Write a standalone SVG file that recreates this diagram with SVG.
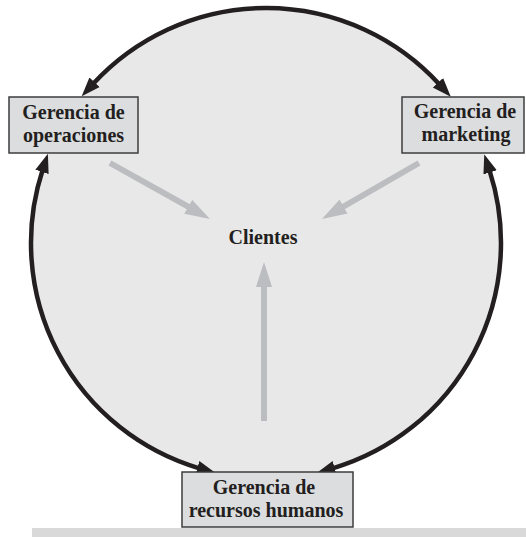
<svg xmlns="http://www.w3.org/2000/svg" width="526" height="537" viewBox="0 0 526 537">
<style>
.box{fill:#dcdddf;stroke:#3d3d3d;stroke-width:1.5}
.lbl{font-family:"Liberation Serif","Times New Roman",serif;font-weight:bold;font-size:20px;fill:#231f20;text-anchor:middle}
.arc{fill:none;stroke:#231f20;stroke-width:4.5;marker-start:url(#bk);marker-end:url(#bk)}
.garr{fill:none;stroke:#bcbdc0;stroke-width:6;marker-end:url(#gy)}
</style>
<defs>
<marker id="bk" markerUnits="userSpaceOnUse" markerWidth="20" markerHeight="16" viewBox="0 -8 20 16" refX="2" refY="0" orient="auto-start-reverse">
<path d="M0,-7 L19,0 L0,7 z" fill="#231f20"/>
</marker>
<marker id="gy" markerUnits="userSpaceOnUse" markerWidth="26" markerHeight="18" viewBox="0 -9 26 18" refX="3" refY="0" orient="auto">
<path d="M0,-8 L25,0 L0,8 z" fill="#bcbdc0"/>
</marker>
</defs>
<rect x="32" y="528" width="494" height="9" fill="#d9d9d9"/>
<circle id="fondo" cx="266" cy="243" r="235" fill="#e8e8e8"/>
<g id="connectors">
<path class="arc" d="M93.2,83.7 A235,235 0 0 1 439.3,84.2"/>
<path class="arc" d="M489.5,170.4 A235,235 0 0 1 332.7,468.3"/>
<path class="arc" d="M199.3,468.3 A235,235 0 0 1 42.6,170.0"/>
<path class="garr" d="M110,163 L190.8,208.2"/>
<path class="garr" d="M419,163 L341,208"/>
<path class="garr" d="M264,421 L264,284"/>
</g>
<g id="operaciones">
<rect class="box" x="9" y="97" width="129" height="56"/>
<text class="lbl" x="73.5" y="119">Gerencia de</text>
<text class="lbl" x="73.5" y="142">operaciones</text>
</g>
<g id="marketing">
<rect class="box" x="402" y="97" width="122" height="56"/>
<text class="lbl" x="465" y="118">Gerencia de</text>
<text class="lbl" x="466" y="141">marketing</text>
</g>
<g id="rrhh">
<rect class="box" x="182" y="472" width="171" height="55"/>
<text class="lbl" x="264" y="494">Gerencia de</text>
<text class="lbl" x="266" y="517">recursos humanos</text>
</g>
<g id="clientes">
<text class="lbl" x="263" y="244">Clientes</text>
</g>
</svg>
